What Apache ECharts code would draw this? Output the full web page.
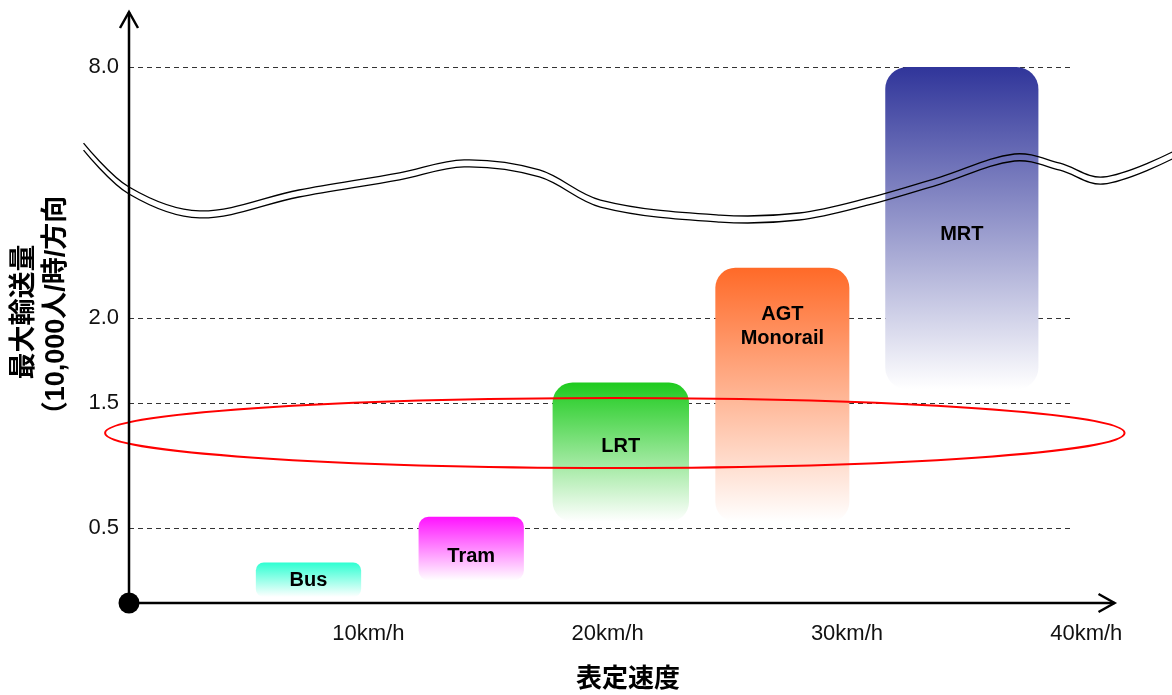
<!DOCTYPE html>
<html>
<head>
<meta charset="utf-8">
<title>表定速度と最大輸送量</title>
<script src="https://cdn.jsdelivr.net/npm/echarts@6/dist/echarts.min.js"></script>
<style>
html, body { margin: 0; padding: 0; background: #fff; }
#chart { width: 1172px; height: 695px; }
</style>
</head>
<body>
<div id="chart"></div>
<script>
// 交通機関
const modes = ['Bus', 'Tram', 'LRT', 'AGT\nMonorail', 'MRT'];
// 表定速度の範囲 (km/h)
const speedFrom = [5.3, 12.1, 17.7, 24.5, 31.6];
const speedTo = [9.7, 16.5, 23.4, 30.1, 38.0];
// 最大輸送量の範囲 (万人/時/方向)
const capFrom = [0.04, 0.15, 0.55, 0.55, 1.58];
const capTo = [0.27, 0.59, 1.62, 3.2, 8.0];
// 目盛り
const speedTicks = [10, 20, 30, 40];
const capTicks = [0.5, 1.5, 2.0, 8.0];
const capTickLabels = ['0.5', '1.5', '2.0', '8.0'];
// 赤い楕円で囲む範囲
const focusSpeed = [-1.0, 41.6];
const focusCap = [0.98, 1.53];
// 省略線(波線)
const breakSpeed = [-1.9, 0.0, 2.95, 7.1, 11.3, 14.0, 17.15, 19.7, 24.7, 28.0, 30.9, 33.9, 37.0, 38.9, 40.7, 43.6];
const breakCap = [6.18, 5.13, 4.56, 5.06, 5.47, 5.78, 5.54, 4.82, 4.46, 4.51, 4.87, 5.37, 5.92, 5.70, 5.37, 5.97];

// 縦軸は途中を省略した非線形の目盛り: 値 -> 軸上の位置
const axisCap = [0, 0.5, 1.5, 2.0, 8.0];
const axisPos = [0, 0.75, 2.0, 2.85, 5.36];
function toPos(v) {
    for (let i = 1; i < axisCap.length; i++) {
        if (v <= axisCap[i] || i === axisCap.length - 1) {
            const t = (v - axisCap[i - 1]) / (axisCap[i] - axisCap[i - 1]);
            return axisPos[i - 1] + t * (axisPos[i] - axisPos[i - 1]);
        }
    }
}

const colors = ['#2effd2', '#ff12ff', '#1ecb1e', '#ff6a28', '#30359a'];
const radius = [8, 10, 20, 20, 22];
const labelAt = [0.53, 0.63, 0.46, 0.23, 0.52];
const latin = '"Liberation Sans", Arial, sans-serif';
const cjk = '"Liberation Sans", "Noto Sans CJK JP", sans-serif';

const chart = echarts.init(document.getElementById('chart'));

const option = {
    animation: false,
    backgroundColor: '#fff',
    grid: { left: 129, right: 57, top: 3, bottom: 92, outerBoundsMode: 'none' },
    xAxis: {
        type: 'value',
        min: 0,
        max: 41.2,
        interval: 10,
        axisLine: { show: false },
        axisTick: { show: false },
        splitLine: { show: false },
        axisLabel: {
            formatter: v => (speedTicks.includes(v) ? v + 'km/h' : ''),
            fontSize: 22,
            color: '#111',
            margin: 20,
            fontFamily: latin
        },
        name: '表定速度',
        nameLocation: 'middle',
        nameGap: 64,
        nameTextStyle: { fontSize: 26, fontWeight: 'bold', color: '#000', fontFamily: cjk, padding: [0, 0, 0, 12] }
    },
    yAxis: {
        type: 'value',
        min: 0,
        max: 6,
        axisLine: { show: false },
        axisTick: { show: false },
        axisLabel: { show: false },
        splitLine: { show: false },
        name: '最大輸送量\n（10,000人/時/方向',
        nameLocation: 'middle',
        nameRotate: 90,
        nameGap: 56,
        nameTextStyle: { fontSize: 27, fontWeight: 'bold', color: '#000', fontFamily: cjk, lineHeight: 32, padding: [0, 18, 0, 0] }
    },
    series: [
        {
            // 目盛り線とラベル
            type: 'custom',
            silent: true,
            z: 1,
            data: capTicks.map(v => [0, toPos(v)]),
            renderItem: (params, api) => {
                const i = params.dataIndex;
                const a = api.coord([0, api.value(1)]);
                const b = api.coord([39.35, api.value(1)]);
                const y = Math.round(a[1]) + 0.5;
                return {
                    type: 'group',
                    children: [
                        {
                            type: 'line',
                            shape: { x1: a[0], y1: y, x2: b[0], y2: y },
                            style: { stroke: '#333', lineWidth: 1, lineDash: [5, 4] }
                        },
                        {
                            type: 'text',
                            style: {
                                text: capTickLabels[i], x: a[0] - 10, y: a[1],
                                align: 'right', verticalAlign: 'middle',
                                font: '22px ' + latin, fill: '#111'
                            }
                        }
                    ]
                };
            }
        },
        {
            // 各交通機関の範囲
            type: 'custom',
            silent: true,
            z: 2,
            data: modes.map((m, i) => [speedFrom[i], speedTo[i], toPos(capFrom[i]), toPos(capTo[i])]),
            encode: { x: [0, 1], y: [2, 3] },
            renderItem: (params, api) => {
                const i = params.dataIndex;
                const tl = api.coord([api.value(0), api.value(3)]);
                const br = api.coord([api.value(1), api.value(2)]);
                const w = br[0] - tl[0];
                const h = br[1] - tl[1];
                return {
                    type: 'group',
                    children: [
                        {
                            type: 'rect',
                            shape: { x: tl[0], y: tl[1], width: w, height: h, r: radius[i] },
                            style: {
                                fill: new echarts.graphic.LinearGradient(0, 0, 0, 1, [
                                    { offset: 0, color: colors[i] },
                                    { offset: 1, color: '#ffffff' }
                                ])
                            }
                        },
                        {
                            type: 'text',
                            style: {
                                text: modes[i], x: tl[0] + w / 2, y: tl[1] + h * labelAt[i],
                                align: 'center', verticalAlign: 'middle',
                                font: 'bold 20px ' + latin, fill: '#000', lineHeight: 24
                            }
                        }
                    ]
                };
            }
        },
        {
            // 省略を表す波線
            type: 'custom',
            silent: true,
            z: 3,
            data: [[0, 0]],
            renderItem: (params, api) => {
                const pts = breakSpeed.map((s, i) => api.coord([s, toPos(breakCap[i])]));
                const low = pts.map(p => [p[0], p[1] + 7]);
                const style = { stroke: '#000', lineWidth: 1.3, fill: null };
                return {
                    type: 'group',
                    children: [
                        { type: 'polyline', shape: { points: pts, smooth: 0.35 }, style: style },
                        { type: 'polyline', shape: { points: low, smooth: 0.35 }, style: style }
                    ]
                };
            }
        },
        {
            // 注目範囲の楕円
            type: 'custom',
            silent: true,
            z: 4,
            data: [[focusSpeed[0], toPos(focusCap[1]), focusSpeed[1], toPos(focusCap[0])]],
            renderItem: (params, api) => {
                const a = api.coord([api.value(0), api.value(1)]);
                const b = api.coord([api.value(2), api.value(3)]);
                return {
                    type: 'ellipse',
                    shape: { cx: (a[0] + b[0]) / 2, cy: (a[1] + b[1]) / 2, rx: (b[0] - a[0]) / 2, ry: (b[1] - a[1]) / 2 },
                    style: { stroke: '#ff0000', lineWidth: 2, fill: null }
                };
            }
        },
        {
            // 軸線と矢印、原点
            type: 'custom',
            silent: true,
            z: 5,
            data: [[0, 0]],
            renderItem: (params, api) => {
                const o = api.coord([0, 0]);
                const xe = api.coord([41.18, 0]);
                const ye = api.coord([0, 5.91]);
                const s = { stroke: '#000', lineWidth: 2.5, fill: null };
                return {
                    type: 'group',
                    children: [
                        { type: 'line', shape: { x1: o[0], y1: o[1], x2: xe[0], y2: xe[1] }, style: s },
                        { type: 'line', shape: { x1: o[0], y1: o[1], x2: ye[0], y2: ye[1] }, style: s },
                        { type: 'polyline', shape: { points: [[xe[0] - 16, xe[1] - 9], xe, [xe[0] - 16, xe[1] + 9]] }, style: s },
                        { type: 'polyline', shape: { points: [[ye[0] - 9, ye[1] + 16], ye, [ye[0] + 9, ye[1] + 16]] }, style: s },
                        { type: 'circle', shape: { cx: o[0], cy: o[1], r: 10.5 }, style: { fill: '#000' } }
                    ]
                };
            }
        }
    ]
};

chart.setOption(option);
</script>
</body>
</html>
